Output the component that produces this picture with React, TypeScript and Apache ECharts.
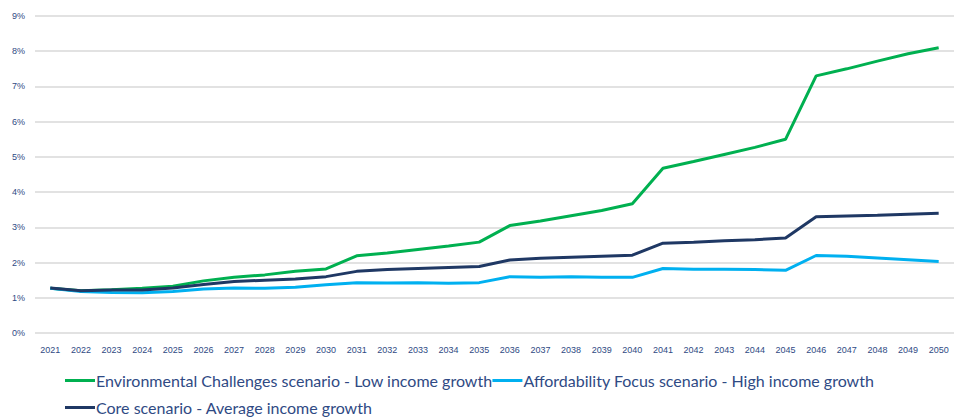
import React, { useEffect, useRef } from "react";
import * as echarts from "echarts";

const years = [
  "2021","2022","2023","2024","2025","2026","2027","2028","2029","2030",
  "2031","2032","2033","2034","2035","2036","2037","2038","2039","2040",
  "2041","2042","2043","2044","2045","2046","2047","2048","2049","2050",
];
const environmental = [1.27,1.2,1.23,1.27,1.33,1.48,1.58,1.65,1.75,1.82,2.19,2.27,2.37,2.47,2.58,3.05,3.18,3.33,3.48,3.67,4.68,4.87,5.07,5.27,5.5,7.3,7.5,7.72,7.93,8.1];
const affordability = [1.27,1.18,1.15,1.14,1.18,1.25,1.28,1.27,1.3,1.37,1.43,1.42,1.43,1.41,1.43,1.6,1.58,1.6,1.58,1.58,1.83,1.81,1.81,1.8,1.78,2.2,2.18,2.13,2.08,2.03];
const core = [1.28,1.2,1.22,1.22,1.28,1.38,1.46,1.5,1.53,1.6,1.75,1.8,1.83,1.86,1.89,2.07,2.12,2.15,2.18,2.21,2.55,2.58,2.62,2.65,2.7,3.3,3.32,3.34,3.37,3.4];
const seriesNames = [
  "Environmental Challenges scenario - Low income growth",
  "Affordability Focus scenario - High income growth",
  "Core scenario - Average income growth",
];
const colors = ["#00B050", "#00B0F0", "#1F3864"];

export default function App() {
  const ref = useRef<HTMLDivElement>(null);
  useEffect(() => {
    if (!ref.current) return;
    const chart = echarts.init(ref.current, null, { renderer: "svg" });
    const textColor = "#2F4A84";
    chart.setOption({
      animation: false,
      color: colors,
      grid: { left: 35, top: 16, width: 927, height: 317, containLabel: false },
      legend: {
        left: 65,
        top: 367,
        width: 870,
        padding: 0,
        itemWidth: 30,
        itemHeight: 3,
        itemGap: 0,
        icon: "rect",
        textStyle: { color: textColor, fontSize: 16, lineHeight: 27, fontFamily: "Lato, 'Open Sans', sans-serif", padding: [0, 0, 0, -4] },
        data: seriesNames,
      },
      xAxis: {
        type: "category",
        data: years,
        boundaryGap: true,
        axisLine: { show: false },
        axisTick: { show: false },
        axisLabel: { color: textColor, fontSize: 9, margin: 12, fontFamily: "Liberation Sans, Arial, sans-serif", interval: 0 },
      },
      yAxis: {
        type: "value",
        min: 0,
        max: 9,
        interval: 1,
        axisLabel: { formatter: "{value}%", color: textColor, fontSize: 9, margin: 10, fontFamily: "Liberation Sans, Arial, sans-serif" },
        splitLine: { lineStyle: { color: "#D9D9D9", width: 1.5 } },
        axisLine: { show: false },
        axisTick: { show: false },
      },
      series: [
        { name: seriesNames[0], type: "line", data: environmental, symbol: "none", lineStyle: { width: 3, color: colors[0] } },
        { name: seriesNames[1], type: "line", data: affordability, symbol: "none", lineStyle: { width: 3, color: colors[1] } },
        { name: seriesNames[2], type: "line", data: core, symbol: "none", lineStyle: { width: 3, color: colors[2] } },
      ],
    });
    return () => chart.dispose();
  }, []);
  return (
    <div style={{ position: "fixed", left: 0, top: 0, width: 954, height: 419, background: "#fff", overflow: "hidden" }}>
      <div ref={ref} style={{ width: 954, height: 419 }} />
    </div>
  );
}
